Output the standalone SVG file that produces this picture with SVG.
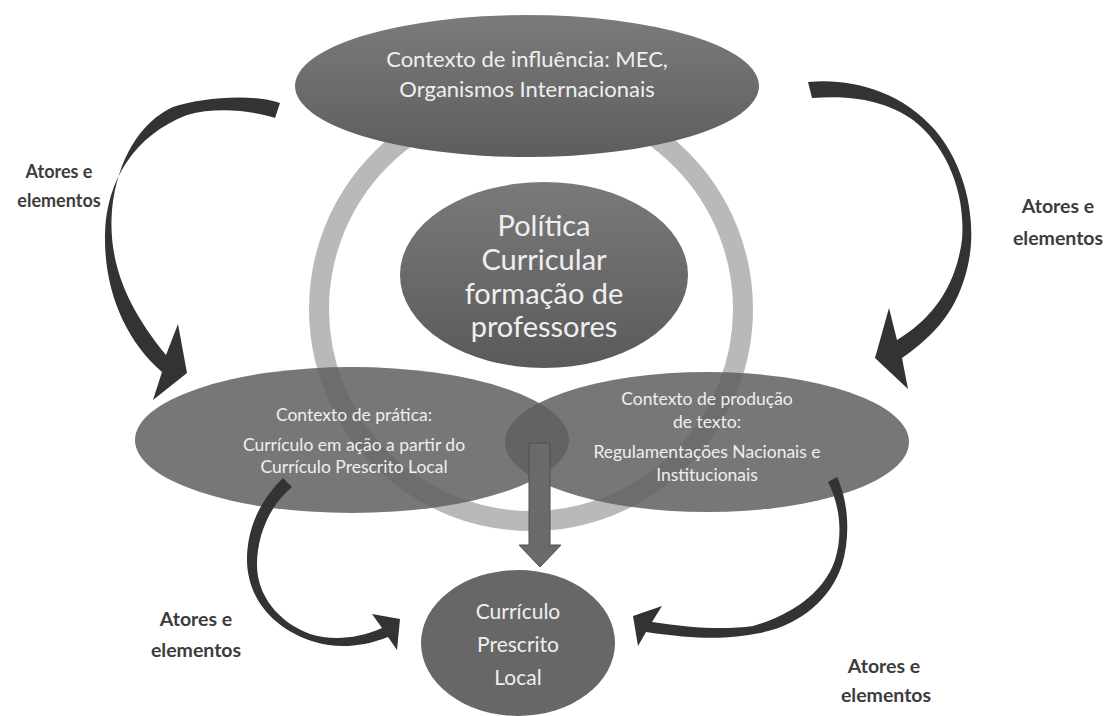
<svg xmlns="http://www.w3.org/2000/svg" width="1114" height="716" viewBox="0 0 1114 716">
  <defs>
    <linearGradient id="gTop" x1="0" y1="0" x2="0" y2="1">
      <stop offset="0" stop-color="#7b7b7b"/>
      <stop offset="1" stop-color="#5d5d5d"/>
    </linearGradient>
    <linearGradient id="gCenter" x1="0" y1="0" x2="0" y2="1">
      <stop offset="0" stop-color="#7a7a7a"/>
      <stop offset="1" stop-color="#5a5a5a"/>
    </linearGradient>
    <style>
      .ring { fill: none; stroke: #b9b9b9; stroke-width: 20; }
      .ctx { fill: #5f5f5f; fill-opacity: 0.85; }
      .curve { fill: #333333; }
      .node-text { font-family: Lato, "Open Sans", sans-serif; fill: #efefef; text-anchor: middle; }
      .label { font-family: Lato, "Open Sans", sans-serif; font-weight: bold; fill: #3c3c3c; text-anchor: middle; }
    </style>
  </defs>
  <rect width="1114" height="716" fill="#ffffff"/>

  <!-- background ring linking the contexts -->
  <circle class="ring" cx="531" cy="309" r="212"/>

  <g id="contexto-influencia">
    <ellipse cx="527" cy="86" rx="232" ry="71" fill="url(#gTop)"/>
    <text class="node-text" x="527" y="67" font-size="22">Contexto de influência: MEC,</text>
    <text class="node-text" x="527" y="97" font-size="22">Organismos Internacionais</text>
  </g>

  <g id="politica-curricular">
    <ellipse cx="544" cy="275" rx="144" ry="93" fill="url(#gCenter)"/>
    <text class="node-text" x="544" y="236" font-size="29">Política</text>
    <text class="node-text" x="544" y="270" font-size="29">Curricular</text>
    <text class="node-text" x="544" y="304" font-size="29">formação de</text>
    <text class="node-text" x="544" y="337" font-size="29">professores</text>
  </g>

  <g id="contexto-pratica">
    <ellipse class="ctx" cx="352" cy="440" rx="217" ry="73"/>
    <text class="node-text" x="354" y="421" font-size="17.5">Contexto de prática:</text>
    <text class="node-text" x="354" y="451" font-size="17.5">Currículo em ação a partir do</text>
    <text class="node-text" x="354" y="473" font-size="17.5">Currículo Prescrito Local</text>
  </g>

  <g id="contexto-producao">
    <ellipse class="ctx" cx="707" cy="442" rx="202" ry="70"/>
    <text class="node-text" x="707" y="405" font-size="17.5">Contexto de produção</text>
    <text class="node-text" x="707" y="428" font-size="17.5">de texto:</text>
    <text class="node-text" x="707" y="458" font-size="17.5">Regulamentações Nacionais e</text>
    <text class="node-text" x="707" y="481" font-size="17.5">Institucionais</text>
  </g>

  <g id="curriculo-prescrito-local">
    <ellipse cx="518" cy="643" rx="97" ry="73" fill="#676767"/>
    <text class="node-text" x="518" y="619" font-size="21">Currículo</text>
    <text class="node-text" x="518" y="652" font-size="21">Prescrito</text>
    <text class="node-text" x="518" y="685" font-size="21">Local</text>
  </g>

  <g id="connectors">
    <!-- straight block arrow down to the local curriculum -->
    <path d="M529,443 L550,443 L550,545 L561,545 L540,567 L519,545 L529,545 Z" fill="#6a6a6a" stroke="#4e4e4e" stroke-width="1"/>
    <!-- curved arrow: influence -> practice -->
    <path class="curve" d="M280,103 C250,93 200,98 173,107 C140,122 117,160 112,210 C108,260 125,305 166,355 L178,324 L187,373 L153,400 L162,372 C125,340 104,290 105,235 C106,180 135,135 187,115 C215,107 250,110 275,118 Z"/>
    <!-- curved arrow: influence -> text production -->
    <path class="curve" d="M808,82 C850,78 900,90 935,130 C965,165 978,220 968,265 C958,310 935,335 902,358 L908,389 L875,358 L889,308 L897,340 C930,320 955,290 962,240 C966,190 945,145 913,120 C885,100 850,95 812,98 Z"/>
    <!-- curved arrow: practice -> local curriculum -->
    <path class="curve" d="M283,478 C262,498 248,525 247,557 C246,595 270,628 315,642 C335,648 360,648 388,637 L397,650 L400,619 L372,614 L382,628 C355,640 330,640 310,634 C278,622 257,595 257,565 C257,535 270,505 292,487 Z"/>
    <!-- curved arrow: text production -> local curriculum -->
    <path class="curve" d="M837,477 C848,500 851,535 842,565 C830,600 800,625 760,633 C730,639 700,640 646,632 L638,646 L633,616 L662,606 L652,622 C690,628 725,630 753,626 C795,614 825,590 835,560 C843,535 840,505 828,482 Z"/>
  </g>

  <g id="labels">
    <text class="label" x="59" y="178" font-size="18">Atores e</text>
    <text class="label" x="59" y="207" font-size="18">elementos</text>
    <text class="label" x="1058" y="213" font-size="19.5">Atores e</text>
    <text class="label" x="1058" y="245" font-size="19.5">elementos</text>
    <text class="label" x="196" y="626" font-size="19.5">Atores e</text>
    <text class="label" x="196" y="657" font-size="19.5">elementos</text>
    <text class="label" x="884" y="673" font-size="19.5">Atores e</text>
    <text class="label" x="886" y="702" font-size="19.5">elementos</text>
  </g>
</svg>
